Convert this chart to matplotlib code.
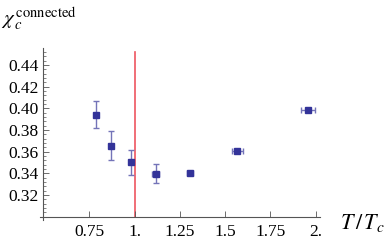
import numpy as np
import matplotlib
matplotlib.use("Agg")
import matplotlib.pyplot as plt
from matplotlib.ticker import MultipleLocator, FixedLocator

# data
t_ratio = [0.785, 0.870, 0.979, 1.117, 1.307, 1.568, 1.960]
t_err = [0.006, 0.006, 0.010, 0.020, 0.018, 0.032, 0.039]
chi_c = [0.3942, 0.3655, 0.3501, 0.3397, 0.3403, 0.3609, 0.3984]
chi_err = [0.0122, 0.0132, 0.0113, 0.0087, 0.0012, 0.0010, 0.0010]

x_ticks = [0.75, 1.0, 1.25, 1.5, 1.75, 2.0]
x_labels = ["0.75", "1.", "1.25", "1.5", "1.75", "2."]
y_ticks = [0.32, 0.34, 0.36, 0.38, 0.40, 0.42, 0.44]
y_labels = ["0.32", "0.34", "0.36", "0.38", "0.40", "0.42", "0.44"]

plt.rcParams["font.family"] = ["Liberation Serif", "DejaVu Serif"]
plt.rcParams["mathtext.fontset"] = "stix"

fig = plt.figure(figsize=(3.9, 2.41), dpi=100)
ax = fig.add_axes([0.1103, 0.0983, 0.7103, 0.7025])
ax.set_xlim(0.4945, 2.025)
ax.set_ylim(0.2994, 0.4557)

for side in ["top", "right"]:
    ax.spines[side].set_visible(False)
ax.spines["left"].set_bounds(0.2968, 0.4557)
ax.spines["bottom"].set_bounds(0.478, 2.025)
for side in ["left", "bottom"]:
    ax.spines[side].set_color("#555555")
    ax.spines[side].set_linewidth(0.8)
    ax.spines[side].set_clip_on(False)

ax.xaxis.set_major_locator(FixedLocator(x_ticks))
ax.set_xticklabels(x_labels)
ax.yaxis.set_major_locator(FixedLocator(y_ticks))
ax.set_yticklabels(y_labels)
ax.yaxis.set_minor_locator(MultipleLocator(0.004))
ax.tick_params(axis="both", which="major", direction="in", length=4, width=0.6,
               color="#555555", labelsize=12.5, pad=3)
ax.tick_params(axis="y", which="minor", direction="in", length=2, width=0.5,
               color="#555555")
ax.tick_params(axis="x", pad=5)

ax.axvline(1.0, ymin=0.0, ymax=(0.4522 - 0.2994) / (0.4557 - 0.2994),
           color="#ee5560", lw=1.2, zorder=1)

ax.errorbar(t_ratio, chi_c, xerr=t_err, yerr=chi_err, fmt="none",
            ecolor="#7474b8", elinewidth=1.0, capsize=2.5, capthick=1.0, zorder=2)
ax.plot(t_ratio, chi_c, "s", color="#333399", ms=3.8, zorder=3)

fig.text(0.003, 0.925, r"$\chi_{\,c}^{\,\mathrm{connected}}$", fontsize=15,
         ha="left", va="center")
fig.text(0.872, 0.075, r"$T\,/\,T_c$", fontsize=16, ha="left", va="center")

fig.savefig("out.png", dpi=100)
